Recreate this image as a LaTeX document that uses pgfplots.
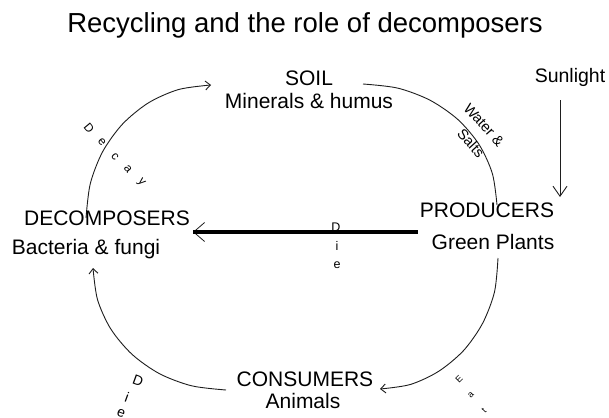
\documentclass[border=0pt]{standalone}
\usepackage{pgfplots}
\pgfplotsset{compat=1.18}
\usepackage{fontspec}
\setmainfont{Liberation Sans}
\usetikzlibrary{arrows.meta}
\definecolor{ink}{HTML}{1E1E1E}
\begin{document}
\begin{tikzpicture}
\begin{axis}[scale only axis, width=609pt, height=417pt,
  xmin=0, xmax=609, ymin=0, ymax=417, y dir=reverse,
  axis lines=none, clip=false,
  every node/.append style={inner sep=0pt, text=ink}]
% arcs
\addplot[ink, line width=0.9pt, smooth, -{Straight Barb[length=5pt,width=9pt]}] coordinates
  {(86,218) (90.3,183.6) (102.75,151.5) (122.6,124.0) (148.5,102.8) (178.65,89.5) (211,85)};
\addplot[ink, line width=0.9pt, smooth] coordinates
  {(363,84) (397.7,88.1) (430,100.2) (457.75,119.4) (479.05,144.5) (492.4,173.7) (497,205)};
\addplot[ink, line width=0.9pt, smooth, -{Straight Barb[length=5pt,width=9pt]}] coordinates
  {(498,258) (494.5,291.9) (482.5,323.5) (463.5,350.6) (438.5,371.4) (410.3,384.5) (380,389)};
\addplot[ink, line width=0.9pt, smooth, -{Straight Barb[length=5pt,width=9pt]}] coordinates
  {(226,390) (191.6,385.8) (159.5,373.7) (132.0,354.3) (110.8,329) (97.5,299.6) (93,268)};
% sunlight arrow
\addplot[ink, line width=0.9pt, -{Straight Barb[length=10pt,width=14pt]}] coordinates {(560,100) (560,197)};
% thick die line
\addplot[ink, line width=0.8pt, -{Straight Barb[length=11pt,width=19pt]}] coordinates {(260,232) (193,232)};
\addplot[black, line width=3.5pt] coordinates {(193,232) (418,232)};
% texts
\node[font=\fontsize{27.5}{32}\selectfont] at (axis cs:305,25) {Recycling and the role of decomposers};
\node[font=\fontsize{21}{25}\selectfont] at (axis cs:309,78) {SOIL};
\node[font=\fontsize{21}{25}\selectfont] at (axis cs:309,101) {Minerals \& humus};
\node[font=\fontsize{19.5}{23}\selectfont] at (axis cs:570,77) {Sunlight};
\node[font=\fontsize{21}{25}\selectfont] at (axis cs:487,210) {PRODUCERS};
\node[font=\fontsize{21}{25}\selectfont] at (axis cs:493,242) {Green Plants};
\node[font=\fontsize{21}{25}\selectfont] at (axis cs:107,218) {DECOMPOSERS};
\node[font=\fontsize{21}{25}\selectfont] at (axis cs:86,249) {Bacteria \& fungi};
\node[font=\fontsize{21}{25}\selectfont] at (axis cs:305,379) {CONSUMERS};
\node[font=\fontsize{21}{25}\selectfont] at (axis cs:303,401) {Animals};
% Decay letters
\node[rotate=-50, font=\fontsize{12}{14}\selectfont] at (axis cs:89,128) {D};
\node[rotate=-50, font=\fontsize{12}{14}\selectfont] at (axis cs:102,142) {e};
\node[rotate=-50, font=\fontsize{12}{14}\selectfont] at (axis cs:115,157) {c};
\node[rotate=-50, font=\fontsize{12}{14}\selectfont] at (axis cs:128,169) {a};
\node[rotate=-50, font=\fontsize{12}{14}\selectfont] at (axis cs:141,183) {y};
% Water & Salts
\node[rotate=-48, font=\fontsize{14.5}{17}\selectfont] at (axis cs:484,125) {Water \&};
\node[rotate=-48, font=\fontsize{14.5}{17}\selectfont] at (axis cs:471,143) {Salts};
% Die (middle)
\node[font=\fontsize{12.5}{14}\selectfont] at (axis cs:336,227) {D};
\node[font=\fontsize{12.5}{14}\selectfont] at (axis cs:337,246) {i};
\node[font=\fontsize{12.5}{14}\selectfont] at (axis cs:337,265) {e};
% Die (bottom left)
\node[rotate=-20, font=\fontsize{14}{16}\selectfont] at (axis cs:138,381) {D};
\node[rotate=-20, font=\fontsize{14}{16}\selectfont] at (axis cs:127,397) {i};
\node[rotate=-20, font=\fontsize{14}{16}\selectfont] at (axis cs:121,413) {e};
% Eat (bottom right)
\node[rotate=45, font=\fontsize{9}{10}\selectfont] at (axis cs:459,379) {E};
\node[rotate=45, font=\fontsize{9}{10}\selectfont] at (axis cs:471,395) {a};
\node[rotate=45, font=\fontsize{9}{10}\selectfont] at (axis cs:484,411) {t};
\end{axis}
\pgfresetboundingbox
\path[use as bounding box] (current axis.south west) rectangle (current axis.north east);
\end{tikzpicture}
\end{document}
